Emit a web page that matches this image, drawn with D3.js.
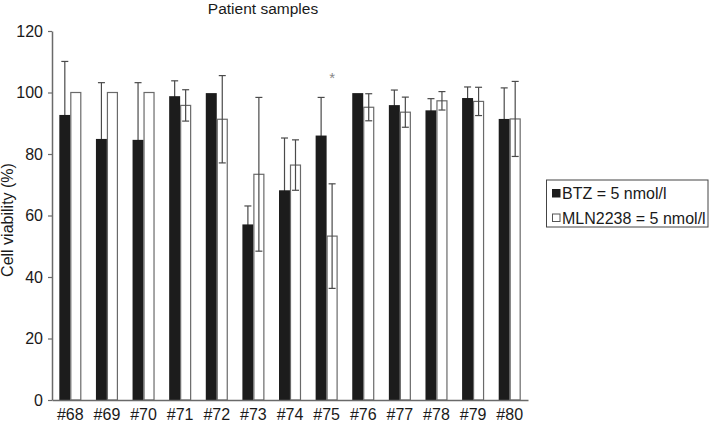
<!DOCTYPE html>
<html>
<head>
<meta charset="utf-8">
<script src="https://cdn.jsdelivr.net/npm/d3@7"></script>
<style>
  html, body { margin: 0; padding: 0; background: #fff; }
  svg { display: block; font-family: "Liberation Sans", Arial, Helvetica, sans-serif; }
</style>
</head>
<body>
<svg id="chart" width="709" height="424"></svg>
<script>
const categories = ['#68','#69','#70','#71','#72','#73','#74','#75','#76','#77','#78','#79','#80'];
const seriesNames = ['BTZ = 5 nmol/l', 'MLN2238 = 5 nmol/l'];
const btzValues = [92.7, 84.9, 84.6, 98.8, 99.8, 57.1, 68.2, 86.0, 99.8, 95.9, 94.2, 98.2, 91.4];
const btzErrors = [17.4, 18.3, 18.6, 5.0, 0, 6.0, 17.0, 12.4, 0, 4.9, 3.8, 3.6, 10.1];
const mlnValues = [100, 100, 100, 95.8, 91.3, 73.4, 76.4, 53.3, 95.2, 93.6, 97.3, 97.1, 91.4];
const mlnErrors = [0, 0, 0, 5.1, 14.2, 25.0, 8.2, 17.0, 4.4, 4.9, 3.0, 4.6, 12.2];
const yTicks = [0, 20, 40, 60, 80, 100, 120];
const significance = [{ category: '#75', series: 1, value: 106 }];
const chartTitle = 'Patient samples';
const yTitle = 'Cell viability (%)';

(function () {
const svg = d3.select('#chart');
const mLeft = 52, mRight = 528, mTop = 31, mBottom = 400;

const x0 = d3.scaleBand().domain(categories).range([mLeft, mRight]).paddingInner(0.4).paddingOuter(0.2);
const x1 = d3.scaleBand().domain([0, 1]).range([0, x0.bandwidth()]);
const y = d3.scaleLinear().domain([0, 120]).range([mBottom, mTop]);

const rows = categories.map((c, i) => ({
  cat: c,
  vals: [
    { s: 0, v: btzValues[i], e: btzErrors[i] },
    { s: 1, v: mlnValues[i], e: mlnErrors[i] }
  ]
}));

const fills = ['#1c1c1c', '#ffffff'];
const strokes = ['#1c1c1c', '#6a6a6a'];
const errColor = '#4a4a4a';
const capW = 7;

function drawErr(sel) {
  sel.each(function(d) {
    if (!d.e) return;
    const g = d3.select(this);
    const cx = x1(d.s) + x1.bandwidth() / 2;
    const y1 = y(d.v + d.e), y2 = y(d.v - d.e);
    g.append('line').attr('x1', cx).attr('x2', cx).attr('y1', y1).attr('y2', y2)
      .attr('stroke', errColor).attr('stroke-width', 1.2);
    g.append('line').attr('x1', cx - capW/2).attr('x2', cx + capW/2).attr('y1', y1).attr('y2', y1)
      .attr('stroke', errColor).attr('stroke-width', 1.2);
    g.append('line').attr('x1', cx - capW/2).attr('x2', cx + capW/2).attr('y1', y2).attr('y2', y2)
      .attr('stroke', errColor).attr('stroke-width', 1.2);
  });
}

const groups = svg.append('g').selectAll('g.cat').data(rows).join('g')
  .attr('class', 'cat')
  .attr('transform', d => `translate(${x0(d.cat)},0)`);

// BTZ error bars drawn beneath the black bars (only upper part visible)
groups.append('g').selectAll('g').data(d => [d.vals[0]]).join('g').call(drawErr);
groups.selectAll('rect').data(d => d.vals).join('rect')
  .attr('x', d => x1(d.s) + (d.s === 1 ? 0.5 : 0))
  .attr('y', d => y(d.v))
  .attr('width', d => x1.bandwidth() - (d.s === 1 ? 1 : 0))
  .attr('height', d => y(0) - y(d.v))
  .attr('fill', d => fills[d.s])
  .attr('stroke', d => strokes[d.s])
  .attr('stroke-width', d => d.s === 1 ? 1.2 : 0);
// MLN error bars on top
groups.append('g').selectAll('g').data(d => [d.vals[1]]).join('g').call(drawErr);

// Y axis
const yAxis = svg.append('g').attr('transform', `translate(${mLeft},0)`)
  .call(d3.axisLeft(y).tickValues(yTicks).tickSize(4).tickPadding(5).tickSizeOuter(0));
yAxis.select('.domain').attr('stroke', '#6a6a6a').attr('stroke-width', 1.5);
yAxis.selectAll('.tick line').attr('stroke', '#6a6a6a').attr('stroke-width', 1.2);
yAxis.selectAll('.tick text').attr('font-size', 16).attr('fill', '#1a1a1a')
  .attr('font-family', '"Liberation Sans", Arial, sans-serif');

// X axis
const xAxis = svg.append('g').attr('transform', `translate(0,${mBottom})`)
  .call(d3.axisBottom(x0).tickSize(0).tickPadding(9).tickSizeOuter(0));
xAxis.select('.domain').attr('stroke', '#6a6a6a').attr('stroke-width', 1.5);
xAxis.selectAll('.tick text').attr('font-size', 16).attr('fill', '#1a1a1a')
  .attr('font-family', '"Liberation Sans", Arial, sans-serif');

// Title
svg.append('text').attr('x', 263).attr('y', 14).attr('text-anchor', 'middle')
  .attr('font-size', 15.5).attr('fill', '#1a1a1a').text(chartTitle);

// Y title
svg.append('text').attr('transform', `translate(13,220) rotate(-90)`)
  .attr('text-anchor', 'middle').attr('font-size', 16).attr('fill', '#1a1a1a').text(yTitle);

// Significance marks
svg.selectAll('text.sig').data(significance).join('text').attr('class', 'sig')
  .attr('x', d => x0(d.category) + x1(d.series) + x1.bandwidth() / 2)
  .attr('y', d => y(d.value) + 9)
  .attr('text-anchor', 'middle').attr('font-size', 15).attr('fill', '#888').text('*');

// Legend
const lg = svg.append('g');
lg.append('rect').attr('x', 546.5).attr('y', 180).attr('width', 161.5).attr('height', 47)
  .attr('fill', '#fff').attr('stroke', '#444').attr('stroke-width', 1);
seriesNames.forEach((name, i) => {
  const yy = 199 + i * 24.5;
  lg.append('rect').attr('x', 552.5).attr('y', yy - 9.5).attr('width', 7.5).attr('height', 7.5)
    .attr('fill', fills[i]).attr('stroke', i === 0 ? '#1c1c1c' : '#555').attr('stroke-width', 1);
  lg.append('text').attr('x', 562).attr('y', yy).attr('font-size', 16).attr('fill', '#1a1a1a').text(name);
});
})();
</script>
</body>
</html>
